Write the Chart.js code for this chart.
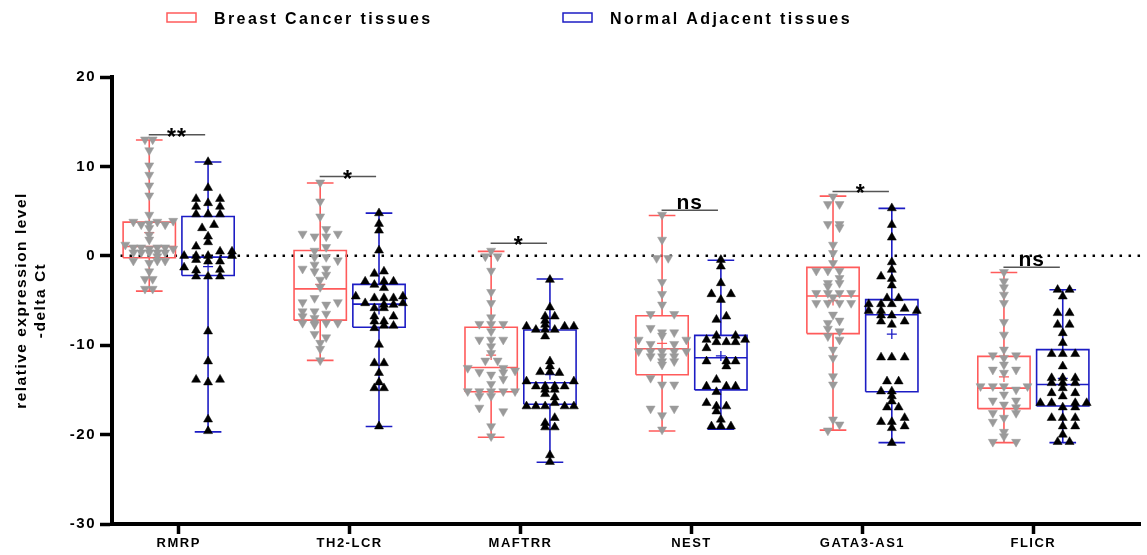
<!DOCTYPE html>
<html>
<head>
<meta charset="utf-8">
<script src="https://cdn.jsdelivr.net/npm/chart.js@4.4.1/dist/chart.umd.min.js"></script>
<style>
  html, body { margin: 0; padding: 0; background: #fff; }
</style>
</head>
<body>
<canvas id="chart" width="1147" height="555"></canvas>
<script>
// categories / series
const genes = ['RMRP', 'TH2-LCR', 'MAFTRR', 'NEST', 'GATA3-AS1', 'FLICR'];
const seriesNames = ['Breast Cancer tissues', 'Normal Adjacent tissues'];
const yTicks = [20, 10, 0, -10, -20, -30];

// box stats, breast cancer
const bcMin  = [-3.95, -11.7, -20.3, -19.6, -19.5, -20.9];
const bcQ1   = [-0.22, -7.2, -15.2, -13.3, -8.7, -17.1];
const bcMed  = [1.04, -3.7, -12.5, -10.4, -4.5, -14.8];
const bcQ3   = [3.77, 0.6, -8.0, -6.7, -1.3, -11.25];
const bcMax  = [12.96, 8.15, 0.5, 4.5, 6.67, -1.86];
const bcMean = [2.6, -3.2, -11.1, -9.8, -5.0, -13.55];

// box stats, normal adjacent
const naMin  = [-19.7, -19.1, -23.1, -19.4, -20.9, -20.9];
const naQ1   = [-2.2, -8.0, -16.6, -15.0, -15.2, -16.8];
const naMed  = [-0.15, -5.4, -14.2, -11.4, -6.6, -14.4];
const naQ3   = [4.4, -3.2, -8.3, -8.9, -4.9, -10.5];
const naMax  = [10.5, 4.77, -2.6, -0.5, 5.3, -3.8];
const naMean = [-1.2, -6.0, -13.3, -11.2, -8.75, -13.7];

// significance marks
const sigText = ['**', '*', '*', 'ns', '*', 'ns'];
const sigY = [13.55, 8.86, 1.4, 5.1, 7.2, -1.27];

// individual samples: [delta Ct, lane] (lane = sideways jitter, 1/100 of a gene slot)
const bcRMRP = [[13.0,-2.5],[13.0,2],[11.8,0],[10.1,0],[9.05,0],[7.86,0],[6.74,0],[4.58,0],
  [3.8,-9.3],[3.5,-4.7],[3.6,0],[3.8,4.7],[3.5,9.3],[3.9,14],[3.1,0],[2.35,0],[1.8,0],[1.23,-14],
  [0.93,-9.3],[0.93,-4.7],[0.93,4.7],[0.93,9.3],[0.78,0],[0.78,14],
  [0.37,-9.3],[0.37,-4.7],[0.37,0],[0.37,4.7],[0.37,9.3],
  [-0.07,4.7],[-0.56,-9.3],[-0.56,4.7],[-0.56,9.3],[-0.8,0],[-1.75,0],
  [-2.6,-2.5],[-2.6,2],[-3.7,-2.5],[-3.7,2]];
const naRMRP = [[10.5,0],[7.6,0],[6.37,-7],[6.37,7],[5.9,0],[5.5,-7],[5.5,7],[4.65,-7],[4.65,0],[4.65,7],
  [3.46,3.5],[3.1,-3.5],[2.16,0],[1.53,0],[1.04,-7],[0.48,7],[0.48,14],[0,-14],[0,-7],[0,0],[0,14],
  [-0.45,-7],[-0.63,0],[-0.63,7],[-1.3,-14],[-1.56,7],[-1.64,-7],[-2.31,-7],[-2.31,0],[-2.31,7],
  [-8.45,0],[-11.8,0],[-13.85,-7],[-13.85,7],[-14.15,0],[-18.3,0],[-19.6,0]];
const bcTH2 = [[8.19,0],[6.07,0],[4.39,0],[2.98,3.5],[2.46,-10.3],[2.46,10.3],[2.16,-3.3],[2.16,3.5],
  [0.97,3.5],[0.56,-3.3],[-0.15,-3.3],[-0.15,3.5],[-0.52,10.3],[-1.0,-3.3],[-1.45,-10.3],[-1.45,3.5],
  [-1.75,-3.3],[-2.12,3.5],[-2.68,0],[-3.5,0],[-4.73,-3.3],[-5.2,-10.3],[-5.2,10.3],[-5.47,3.5],
  [-6.22,-10.3],[-6.22,-3.3],[-6.48,3.5],[-6.78,-10.3],[-6.96,-3.3],[-7.52,-10.3],[-7.52,-3.3],
  [-7.52,3.5],[-7.52,10.3],[-7.7,-3.3],[-8.75,-3.3],[-9.13,3.5],[-9.75,0],[-10.42,0],[-11.7,0]];
const naTH2 = [[4.77,0],[3.58,0],[2.83,0],[0.6,0],[-1.75,2.9],[-2.0,-2.7],[-2.87,-8.1],[-2.87,2.9],
  [-2.87,8.5],[-3.24,-2.7],[-3.6,2.9],[-4.54,-13.6],[-4.54,14],[-4.73,-2.7],[-4.73,2.9],[-4.73,8.5],
  [-5.29,-8.1],[-5.29,14],[-5.47,2.9],[-5.47,8.5],[-5.85,-2.7],[-5.85,2.9],[-6.78,-2.7],[-6.78,8.5],
  [-7.34,-2.7],[-7.34,2.9],[-7.82,2.9],[-7.82,8.5],[-8.08,-2.7],[-9.94,0],[-12.0,-2.7],[-12.0,2.9],
  [-13.1,0],[-14.15,0],[-14.8,-2.7],[-14.8,2.9],[-19.07,0]];
const bcMAF = [[0.56,0],[-0.07,-3.4],[-0.07,3.8],[-1.68,0],[-4.06,0],[-5.29,0],[-6.89,0],
  [-7.63,-6.9],[-7.63,0],[-7.63,7.1],[-8.45,0],[-9.39,-6.9],[-9.39,0],[-9.39,7.1],[-10.13,0],
  [-10.88,0],[-11.73,-3.4],[-11.73,3.8],[-12.55,-13.7],[-13.0,-6.9],[-12.55,7.1],[-13.05,7.1],
  [-12.85,14],[-13.3,0],[-13.78,7.1],[-14.34,0],[-15.16,-13.7],[-15.16,-6.9],[-15.16,0],
  [-15.16,7.1],[-15.16,14],[-15.7,-6.9],[-15.7,0],[-17.0,-6.9],[-17.4,7.1],[-19.07,0],[-20.2,0]];
const naMAF = [[-2.68,0],[-5.77,0],[-6.78,-2.8],[-6.78,2.8],[-7.26,-2.8],[-7.7,-2.8],[-7.9,-13.7],
  [-7.9,8.6],[-7.9,14],[-8.27,-8.2],[-8.27,-2.8],[-8.27,2.8],[-9.01,-2.8],[-11.8,0],[-12.36,0],
  [-13.0,-5.7],[-13.0,0],[-13.1,5.5],[-14.04,-13.7],[-14.04,14],[-14.6,-8.2],[-14.6,-2.8],
  [-14.6,2.8],[-14.6,8.6],[-14.97,-2.8],[-14.97,2.8],[-15.46,-2.8],[-15.83,2.8],[-16.46,2.8],
  [-16.83,-13.7],[-16.83,-8.2],[-16.83,-2.8],[-16.83,8.6],[-16.83,14],[-18.13,2.8],[-18.7,-2.8],
  [-19.18,-2.8],[-19.18,2.8],[-22.3,0],[-23.05,0]];
const bcNEST = [[4.58,0],[1.79,0],[-0.26,-3.2],[-0.26,3.6],[-2.94,0],[-4.28,0],[-5.47,0],
  [-6.52,-6.7],[-6.52,7.1],[-8.08,-6.7],[-8.57,0],[-8.57,7.1],[-8.94,0],[-9.39,-13.7],[-9.39,14.2],
  [-9.87,-6.7],[-9.87,7.1],[-10.69,-13.7],[-10.69,-6.7],[-10.69,0],[-10.69,7.1],[-10.69,14.2],
  [-11.25,-6.7],[-11.25,0],[-11.25,7.1],[-11.8,0],[-11.8,7.1],[-12.18,0],[-13.67,-6.7],[-14.41,0],
  [-14.41,7.1],[-17.1,-6.7],[-17.1,7.1],[-17.84,0],[-19.44,0]];
const naNEST = [[-0.45,0],[-1.19,0],[-3.05,0],[-4.28,-5.5],[-4.28,5.9],[-4.92,0],[-6.78,3.2],
  [-7.15,-2.6],[-8.94,-2.6],[-8.94,8.6],[-9.39,-8.4],[-9.39,14.2],[-9.65,-2.6],[-9.65,3.2],
  [-9.65,8.6],[-10.32,-8.4],[-11.8,-8.4],[-11.8,3.2],[-11.8,8.6],[-12.36,3.2],[-13.85,-2.6],
  [-14.6,-8.4],[-14.6,3.2],[-14.6,8.6],[-15.23,-2.6],[-16.46,-8.4],[-16.83,-2.6],[-16.83,3.2],
  [-17.4,-2.6],[-18.32,0],[-19.07,-5.5],[-19.07,0],[-19.07,5.9]];
const bcGATA = [[6.63,0],[5.77,-3],[5.77,3.8],[3.54,-3],[3.54,3.8],[3.17,3.8],[1.23,0],[0.3,0],
  [-0.82,0],[-1.68,-9.8],[-1.68,-3],[-1.68,3.8],[-2.5,3.8],[-3.05,-3],[-3.05,3.8],[-3.43,-3],
  [-4.17,-9.8],[-4.17,-3],[-4.17,3.8],[-4.17,10.6],[-4.65,0],[-5.29,-9.8],[-5.29,-3],[-5.29,3.8],
  [-5.29,10.6],[-6.59,0],[-7.26,3.8],[-7.52,-3],[-8.16,-3],[-8.45,3.8],[-9.01,-3],[-9.39,3.8],
  [-10.5,0],[-11.43,0],[-13.48,0],[-14.41,0],[-18.32,0],[-18.88,3.8],[-19.55,-3]];
const naGATA = [[5.33,0],[3.46,0],[2.05,0],[-0.71,0],[-1.56,0],[-2.31,-6.3],[-2.57,0],[-3.31,0],
  [-4.73,-2.8],[-4.73,4],[-5.4,-13.5],[-5.4,-6.3],[-5.4,0],[-5.92,7.5],[-6.15,-13.5],[-6.15,-6.3],
  [-6.15,14.6],[-6.67,-6.3],[-6.67,0],[-7.34,-6.3],[-7.34,7.5],[-7.7,0],[-11.36,-6.3],[-11.36,0],
  [-11.36,7.5],[-14.04,-2.8],[-14.04,4],[-15.16,-6.3],[-15.16,0],[-15.7,0],[-16.28,0],[-16.95,-2.8],
  [-16.95,4],[-18.13,7.5],[-18.58,-6.3],[-18.58,0],[-19.07,7.5],[-19.26,0],[-20.93,0]];
const bcFLICR = [[-1.82,0],[-2.87,0],[-3.54,0],[-4.36,0],[-5.29,0],[-7.41,0],[-8.83,0],[-10.5,0],
  [-11.14,-6.5],[-11.14,7.1],[-11.43,0],[-12.18,0],[-12.74,-6.5],[-12.74,7.1],[-13.1,0],
  [-14.6,-13.7],[-14.6,-6.5],[-14.6,0],[-14.6,13.8],[-14.97,7.1],[-15.53,0],[-16.2,-6.5],[-16.2,7.1],
  [-16.65,0],[-16.95,7.1],[-17.59,-6.5],[-17.59,7.1],[-18.13,0],[-18.58,-6.5],[-19.7,0],[-20.2,0],
  [-20.82,-6.5],[-20.82,7.1]];
const naFLICR = [[-3.8,-3],[-3.8,4],[-4.54,0],[-6.4,-3],[-6.4,4],[-7.7,-3],[-7.7,4],[-8.64,0],[-9.75,0],
  [-10.98,-6.5],[-10.98,0],[-10.98,7.3],[-12.36,0],[-13.67,-6.5],[-13.67,0],[-13.67,7.3],
  [-14.23,-6.5],[-14.23,0],[-14.23,7.3],[-14.8,0],[-15.35,-6.5],[-15.35,7.3],[-15.72,0],
  [-16.46,-13.1],[-16.46,-6.5],[-16.46,7.3],[-16.46,14],[-16.95,0],[-16.95,7.3],[-18.13,-6.5],
  [-18.13,0],[-18.13,7.3],[-19.07,0],[-19.07,7.3],[-20.0,0],[-20.82,-3],[-20.82,4]];

const bcPts = [bcRMRP, bcTH2, bcMAF, bcNEST, bcGATA, bcFLICR];
const naPts = [naRMRP, naTH2, naMAF, naNEST, naGATA, naFLICR];

// geometry in gene-slot units
const SIDE = 0.172, HALF = 0.153, CAP = 0.078;
const X_MIN = 0.61, X_MAX = 6.628;
const RED = '#ff5b5b', BLUE = '#1c1cc4', GRAY = '#9a9a9a';
const FAMILY = "'Liberation Sans', Arial, sans-serif";

const brk = (x) => ({ x, y: null });

function boxPath(side, mn, q1, md, q3, mx) {
  const out = [];
  genes.forEach((g, i) => {
    const c = i + 1 + side, l = c - HALF, r = c + HALF;
    out.push(
      { x: l, y: q1[i] }, { x: l, y: q3[i] }, { x: r, y: q3[i] }, { x: r, y: q1[i] }, { x: l, y: q1[i] }, brk(c),
      { x: l, y: md[i] }, { x: r, y: md[i] }, brk(c),
      { x: c, y: q3[i] }, { x: c, y: mx[i] }, brk(c),
      { x: c - CAP, y: mx[i] }, { x: c + CAP, y: mx[i] }, brk(c),
      { x: c, y: q1[i] }, { x: c, y: mn[i] }, brk(c),
      { x: c - CAP, y: mn[i] }, { x: c + CAP, y: mn[i] }, brk(c)
    );
  });
  return out;
}

const points = (side, groups) => groups.flatMap((pts, i) =>
  pts.map(([v, lane]) => ({ x: i + 1 + side + lane / 100, y: v })));

const means = (side, m) => m.map((v, i) => ({ x: i + 1 + side, y: v }));

const sigLines = genes.flatMap((g, i) => [
  { x: i + 1 - 0.175, y: sigY[i] }, { x: i + 1 + 0.155, y: sigY[i] }, brk(i + 1)]);

const lineDs = (data, color, width, order, extra = {}) => ({
  type: 'line', data, borderColor: color, borderWidth: width, pointRadius: 0,
  spanGaps: false, fill: false, tension: 0, order, ...extra,
});

// legend + significance text drawn on the canvas
const overlay = {
  id: 'overlay',
  beforeDraw(chart) { chart.ctx.letterSpacing = '1.5px'; },
  afterDatasetsDraw(chart) {
    const { ctx, scales: { x, y } } = chart;
    ctx.save();
    ctx.fillStyle = '#000';
    ctx.textAlign = 'center';
    ctx.textBaseline = 'alphabetic';
    sigText.forEach((t, i) => {
      const px = x.getPixelForValue(i + 1 - 0.01);
      const py = y.getPixelForValue(sigY[i]);
      if (t === 'ns') {
        ctx.letterSpacing = '1px';
        ctx.font = `bold 21px ${FAMILY}`;
        ctx.fillText(t, px, py - 1.5);
      } else {
        ctx.letterSpacing = '1px';
        ctx.font = `bold 23px ${FAMILY}`;
        ctx.fillText(t, px, py + 10);
      }
    });
    ctx.restore();
  },
  afterDraw(chart) {
    const { ctx } = chart;
    ctx.save();
    ctx.letterSpacing = '2.4px';
    ctx.font = `bold 16px ${FAMILY}`;
    ctx.textAlign = 'left';
    ctx.textBaseline = 'alphabetic';
    const items = [[seriesNames[0], RED, 167], [seriesNames[1], BLUE, 563]];
    items.forEach(([label, color, bx]) => {
      ctx.fillStyle = '#fff';
      ctx.fillRect(bx, 13, 29, 9);
      ctx.strokeStyle = color;
      ctx.lineWidth = 1.5;
      ctx.strokeRect(bx, 13, 29, 9);
      ctx.fillStyle = '#000';
      ctx.fillText(label, bx + 47, 24);
    });
    ctx.restore();
  },
};

Chart.defaults.color = '#000';
Chart.defaults.font.family = FAMILY;

new Chart(document.getElementById('chart'), {
  type: 'scatter',
  data: {
    datasets: [
      {
        type: 'scatter', label: seriesNames[0], data: points(-SIDE, bcPts),
        pointStyle: 'triangle', rotation: 180, pointRadius: 5.2,
        backgroundColor: GRAY, borderColor: GRAY, borderWidth: 0.5, order: 0,
      },
      {
        type: 'scatter', label: seriesNames[1], data: points(SIDE, naPts),
        pointStyle: 'triangle', pointRadius: 5.2,
        backgroundColor: '#000', borderColor: '#000', borderWidth: 0.5, order: 0,
      },
      {
        type: 'scatter', data: means(-SIDE, bcMean), pointStyle: 'cross', pointRadius: 5,
        borderColor: RED, borderWidth: 1.3, order: 1,
      },
      {
        type: 'scatter', data: means(SIDE, naMean), pointStyle: 'cross', pointRadius: 5,
        borderColor: BLUE, borderWidth: 1.3, order: 1,
      },
      lineDs(boxPath(-SIDE, bcMin, bcQ1, bcMed, bcQ3, bcMax), RED, 1.6, 2),
      lineDs(boxPath(SIDE, naMin, naQ1, naMed, naQ3, naMax), BLUE, 1.6, 2),
      lineDs(sigLines, '#555', 1.5, 3),
      lineDs([{ x: 0.66, y: 0 }, { x: X_MAX, y: 0 }], '#000', 2.5, 4,
        { borderDash: [2.5, 6.5], borderCapStyle: 'butt' }),
    ],
  },
  options: {
    responsive: false,
    animation: false,
    events: [],
    layout: { padding: { top: 77, right: 0, left: 0, bottom: 0 } },
    plugins: { legend: { display: false }, tooltip: { enabled: false } },
    scales: {
      x: {
        type: 'linear', min: X_MIN, max: X_MAX, bounds: 'data',
        afterBuildTicks: (s) => { s.ticks = genes.map((g, i) => ({ value: i + 1 })); },
        afterFit: (s) => { s.height = 31; },
        grid: { display: true, drawOnChartArea: false, drawTicks: true, tickLength: 10, tickWidth: 3.5, tickColor: '#000' },
        border: { display: true, width: 4, color: '#000' },
        ticks: {
          autoSkip: false, maxRotation: 0, padding: 2, color: '#000',
          font: { size: 13, weight: 'bold' },
          callback: (v) => genes[Math.round(v) - 1] ?? '',
        },
      },
      y: {
        min: yTicks[yTicks.length - 1], max: yTicks[0],
        afterBuildTicks: (s) => { s.ticks = yTicks.map((v) => ({ value: v })); },
        afterFit: (s) => { s.width = 112; },
        grid: { display: true, drawOnChartArea: false, drawTicks: true, tickLength: 12, tickWidth: 3.5, tickColor: '#000' },
        border: { display: true, width: 4, color: '#000' },
        ticks: { padding: 4, color: '#000', font: { size: 15, weight: 'bold' }, callback: (v) => String(v) },
        title: {
          display: true,
          text: ['relative expression level', '-delta Ct'],
          color: '#000',
          font: { size: 15.5, weight: 'bold', lineHeight: 1.2 },
          padding: { top: 12.5, bottom: 0 },
        },
      },
    },
  },
  plugins: [overlay],
});
</script>
</body>
</html>
